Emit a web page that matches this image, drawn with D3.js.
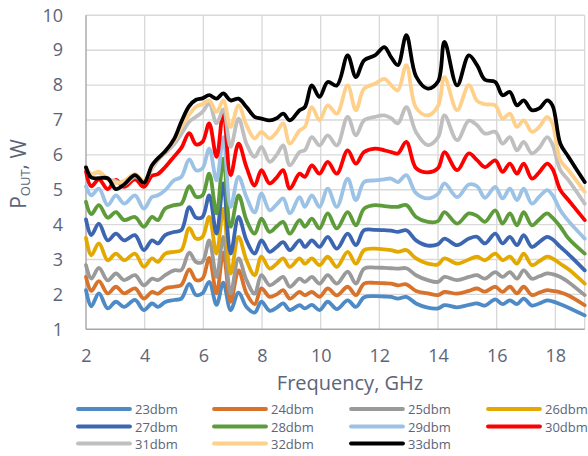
<!DOCTYPE html>
<html>
<head>
<meta charset="utf-8">
<script src="https://cdn.jsdelivr.net/npm/d3@7"></script>
<style>
  html, body { margin: 0; padding: 0; background: #fff; }
  svg { display: block; font-family: "Open Sans", "Noto Sans", sans-serif; }
</style>
</head>
<body>
<svg id="chart" width="588" height="456"></svg>
<script>
// Measurement frequencies, GHz
const freqGHz = [2.0, 2.18, 2.44, 2.74, 3.02, 3.3, 3.67, 3.97, 4.25, 4.45, 4.7, 5.0, 5.25, 5.52, 5.75, 5.97,
  6.2, 6.45, 6.68, 6.93, 7.2, 7.47, 7.75, 7.98, 8.26, 8.5, 8.72, 8.95, 9.28, 9.46, 9.7, 9.96, 10.24, 10.55,
  10.92, 11.2, 11.48, 11.85, 12.17, 12.4, 12.63, 12.92, 13.25, 13.65, 14.0, 14.22, 14.65, 15.05, 15.33, 15.6,
  15.95, 16.2, 16.45, 16.69, 16.92, 17.2, 17.45, 17.72, 17.9, 18.17, 18.45, 19.0];

// Output power (W) for each input drive level
const pout23 = [2.12, 1.66, 2.03, 1.6, 1.79, 1.64, 1.84, 1.55, 1.74, 1.64, 1.78, 1.84, 1.88, 2.3, 1.98, 2.03,
  2.36, 1.7, 2.34, 1.55, 2.05, 1.64, 1.48, 1.79, 1.53, 1.62, 1.74, 1.55, 1.69, 1.6, 1.7, 1.55, 1.79, 1.58,
  1.83, 1.64, 1.92, 1.95, 1.94, 1.93, 1.88, 1.93, 1.74, 1.62, 1.6, 1.69, 1.63, 1.7, 1.74, 1.68,
  1.86, 1.72, 1.83, 1.72, 1.88, 1.68, 1.74, 1.83, 1.8, 1.72, 1.62, 1.4];
const pout24 = [2.5, 2.1, 2.38, 2.03, 2.22, 2.03, 2.17, 1.88, 2.07, 2.02, 2.17, 2.22, 2.27, 2.72, 2.41, 2.45,
  3.05, 2.03, 3.2, 1.79, 2.69, 2.03, 1.72, 2.17, 1.93, 2.0, 2.12, 1.88, 2.07, 1.98, 2.07, 1.93, 2.17, 1.97,
  2.22, 1.98, 2.31, 2.33, 2.32, 2.31, 2.26, 2.29, 2.1, 2.03, 1.98, 2.07, 2.02, 2.1, 2.17, 2.08,
  2.22, 2.07, 2.22, 2.03, 2.22, 1.98, 2.05, 2.12, 2.1, 2.06, 1.97, 1.69];
const pout25 = [2.84, 2.45, 2.76, 2.4, 2.6, 2.41, 2.55, 2.26, 2.45, 2.41, 2.55, 2.69, 2.7, 3.2, 2.93, 2.93,
  3.55, 2.5, 3.65, 2.03, 3.03, 2.41, 2.02, 2.55, 2.26, 2.38, 2.5, 2.22, 2.45, 2.36, 2.5, 2.31, 2.55, 2.31,
  2.65, 2.31, 2.74, 2.77, 2.76, 2.75, 2.74, 2.75, 2.55, 2.41, 2.36, 2.5, 2.41, 2.5, 2.55, 2.45,
  2.64, 2.5, 2.64, 2.45, 2.69, 2.45, 2.52, 2.6, 2.58, 2.5, 2.35, 1.98];
const pout26 = [3.62, 3.12, 3.46, 2.98, 3.17, 2.98, 3.17, 2.79, 3.03, 2.93, 3.17, 3.22, 3.27, 3.9, 3.6, 3.65,
  4.22, 3.17, 4.46, 2.6, 3.65, 2.98, 2.55, 3.08, 2.74, 2.88, 3.03, 2.79, 3.03, 2.88, 3.03, 2.84, 3.08, 2.79,
  3.22, 2.88, 3.27, 3.31, 3.29, 3.27, 3.22, 3.27, 3.03, 2.88, 2.86, 3.03, 2.88, 3.0, 3.08, 2.98,
  3.17, 2.98, 3.08, 2.88, 3.17, 2.84, 2.95, 3.08, 3.03, 2.88, 2.72, 2.31];
const pout27 = [4.15, 3.7, 4.03, 3.55, 3.74, 3.55, 3.7, 3.27, 3.55, 3.46, 3.7, 3.79, 3.84, 4.5, 4.2, 4.22,
  4.84, 3.74, 5.18, 3.17, 4.22, 3.55, 3.17, 3.55, 3.22, 3.36, 3.5, 3.27, 3.55, 3.36, 3.55, 3.36, 3.65, 3.31,
  3.74, 3.41, 3.84, 3.85, 3.84, 3.83, 3.79, 3.84, 3.55, 3.4, 3.44, 3.6, 3.41, 3.6, 3.65, 3.46,
  3.74, 3.46, 3.65, 3.41, 3.7, 3.36, 3.5, 3.65, 3.58, 3.36, 3.15, 2.69];
const pout28 = [4.65, 4.3, 4.56, 4.2, 4.36, 4.13, 4.22, 3.94, 4.22, 4.13, 4.46, 4.56, 4.6, 5.1, 4.8, 4.84,
  5.46, 4.32, 5.89, 3.94, 4.84, 4.13, 3.74, 4.17, 3.79, 3.95, 4.08, 3.74, 4.13, 3.94, 4.17, 3.89, 4.32, 3.89,
  4.36, 3.98, 4.46, 4.56, 4.53, 4.51, 4.51, 4.56, 4.22, 4.08, 4.1, 4.36, 4.03, 4.32, 4.25, 4.08,
  4.41, 4.03, 4.32, 3.98, 4.36, 3.98, 4.15, 4.32, 4.2, 3.94, 3.6, 3.17];
const pout29 = [5.1, 4.84, 5.03, 4.56, 4.84, 4.6, 4.84, 4.46, 4.79, 4.84, 4.99, 5.27, 5.37, 5.87, 5.56, 5.61,
  6.18, 5.27, 6.51, 4.51, 5.37, 4.79, 4.35, 4.89, 4.41, 4.58, 4.75, 4.32, 4.79, 4.51, 4.84, 4.51, 5.03, 4.51,
  5.32, 4.7, 5.22, 5.27, 5.3, 5.32, 5.22, 5.42, 4.9, 4.75, 4.88, 5.18, 4.79, 5.15, 5.1, 4.77,
  5.08, 4.75, 5.03, 4.7, 5.03, 4.6, 4.8, 4.99, 4.85, 4.41, 4.1, 3.6];
const pout30 = [5.52, 5.1, 5.3, 5.02, 5.28, 5.08, 5.3, 5.08, 5.4, 5.45, 5.65, 5.95, 6.2, 6.62, 6.3, 6.37,
  6.9, 5.94, 7.25, 5.42, 6.32, 5.65, 5.12, 5.56, 5.18, 5.35, 5.56, 5.03, 5.46, 5.37, 5.7, 5.46, 5.8, 5.46,
  6.13, 5.75, 6.08, 6.18, 6.13, 6.08, 6.04, 6.37, 5.62, 5.5, 5.62, 6.08, 5.56, 6.04, 5.85, 5.65,
  5.84, 5.51, 5.75, 5.46, 5.75, 5.32, 5.5, 5.75, 5.6, 4.99, 4.7, 4.13];
const pout31 = [5.6, 5.45, 5.5, 5.3, 5.25, 5.15, 5.38, 5.25, 5.6, 5.85, 6.05, 6.3, 6.6, 6.95, 7.09, 7.23,
  7.47, 6.9, 7.3, 6.23, 7.04, 6.32, 5.94, 6.23, 5.8, 6.0, 6.27, 5.7, 6.08, 6.13, 6.51, 6.27, 6.56, 6.27,
  7.09, 6.56, 6.99, 7.09, 7.13, 7.05, 6.9, 7.37, 6.65, 6.28, 6.5, 7.13, 6.42, 6.98, 6.85, 6.61,
  6.66, 6.32, 6.51, 6.13, 6.37, 6.04, 6.2, 6.51, 6.3, 5.56, 5.27, 4.6];
const pout32 = [5.65, 5.45, 5.52, 5.3, 5.2, 5.25, 5.45, 5.25, 5.65, 5.9, 6.1, 6.4, 6.8, 7.15, 7.38, 7.45,
  7.56, 7.23, 7.56, 6.8, 7.42, 6.85, 6.47, 6.66, 6.47, 6.65, 6.9, 6.32, 6.7, 6.8, 7.37, 6.99, 7.42, 7.18,
  7.99, 7.28, 7.9, 8.04, 8.18, 8.0, 7.85, 8.57, 7.35, 7.13, 7.4, 8.23, 7.28, 8.0, 7.55, 7.45,
  7.42, 7.04, 7.18, 6.8, 6.99, 6.66, 6.8, 7.09, 6.9, 5.84, 5.56, 4.94];
const pout33 = [5.64, 5.35, 5.33, 5.33, 5.02, 5.15, 5.42, 5.2, 5.7, 5.9, 6.1, 6.45, 6.95, 7.4, 7.58, 7.62,
  7.71, 7.61, 7.76, 7.56, 7.61, 7.37, 7.09, 7.04, 6.99, 7.05, 7.18, 6.99, 7.28, 7.37, 7.99, 7.66, 8.09, 7.99,
  8.85, 8.23, 8.71, 8.85, 9.09, 8.8, 8.57, 9.43, 8.25, 7.9, 8.1, 9.24, 7.99, 8.85, 8.57, 8.15,
  8.09, 7.71, 7.8, 7.42, 7.56, 7.28, 7.33, 7.56, 7.42, 6.32, 5.94, 5.22];

const seriesNames = ["23dbm", "24dbm", "25dbm", "26dbm", "27dbm", "28dbm", "29dbm", "30dbm", "31dbm", "32dbm", "33dbm"];
const seriesValues = [pout23, pout24, pout25, pout26, pout27, pout28, pout29, pout30, pout31, pout32, pout33];
const seriesColors = ["#4e8ac6", "#d8732c", "#9a9a9a", "#e4a900", "#3c66b1", "#5e9c3b",
  "#9cc2e5", "#ff0000", "#bfbfbf", "#ffd08a", "#000000"];

const xTicks = [2, 4, 6, 8, 10, 12, 14, 16, 18];
const yTicks = [1, 2, 3, 4, 5, 6, 7, 8, 9, 10];

const svg = d3.select("#chart");
const textColor = "#5c6578";

const x = d3.scaleLinear().domain([2, 19]).range([86, 584.7]);
const y = d3.scaleLinear().domain([1, 10]).range([329.3, 15.3]);

// gridlines
const grid = svg.append("g").attr("stroke", "#d9d9d9").attr("stroke-width", 1.4);
grid.selectAll("line.h").data(yTicks.slice(1)).join("line")
  .attr("x1", x(2)).attr("x2", x(19))
  .attr("y1", d => y(d)).attr("y2", d => y(d));
grid.selectAll("line.v").data(xTicks.slice(1).concat([19])).join("line")
  .attr("x1", d => x(d)).attr("x2", d => x(d))
  .attr("y1", y(1)).attr("y2", y(10));

// axis lines
svg.append("line").attr("x1", x(2)).attr("x2", x(2)).attr("y1", y(10)).attr("y2", y(1))
  .attr("stroke", "#a6a6a6").attr("stroke-width", 1.4);
svg.append("line").attr("x1", x(2)).attr("x2", x(19)).attr("y1", y(1)).attr("y2", y(1))
  .attr("stroke", "#a6a6a6").attr("stroke-width", 1.4);

// tick labels
const yAxis = d3.axisLeft(y).tickValues(yTicks).tickSize(0).tickPadding(23);
const gy = svg.append("g").attr("transform", `translate(${x(2)},0)`).call(yAxis);
const xAxis = d3.axisBottom(x).tickValues(xTicks).tickSize(0).tickPadding(20);
const gx = svg.append("g").attr("transform", `translate(0,${y(1)})`).call(xAxis);
[gx, gy].forEach(g => {
  g.select(".domain").remove();
  g.selectAll("text").attr("fill", textColor).attr("font-size", 18)
    .attr("font-family", '"Open Sans", sans-serif');
});

// series lines
const line = d3.line()
  .x((d, i) => x(freqGHz[i]))
  .y(d => y(d))
  .curve(d3.curveCatmullRom.alpha(0.5));

svg.append("g").selectAll("path").data(seriesValues).join("path")
  .attr("d", d => line(d))
  .attr("fill", "none")
  .attr("stroke", (d, i) => seriesColors[i])
  .attr("stroke-width", 3.8)
  .attr("stroke-linejoin", "round")
  .attr("stroke-linecap", "round");

// axis titles
const yTitle = svg.append("text")
  .attr("transform", "translate(26,174) rotate(-90)")
  .attr("text-anchor", "middle")
  .attr("fill", textColor)
  .attr("font-size", 21);
yTitle.append("tspan").text("P");
yTitle.append("tspan").attr("font-size", 13).attr("dy", 4).text("OUT");
yTitle.append("tspan").attr("dy", -4).text(", W");

svg.append("text")
  .attr("x", 350).attr("y", 390)
  .attr("text-anchor", "middle")
  .attr("fill", textColor)
  .attr("font-size", 20)
  .text("Frequency, GHz");

// legend
const legendCols = [77, 213, 350, 487];
const legendRows = [409, 426.5, 443.5];
const legend = svg.append("g").selectAll("g").data(seriesNames).join("g")
  .attr("transform", (d, i) => `translate(${legendCols[i % 4]},${legendRows[Math.floor(i / 4)]})`);
legend.append("line")
  .attr("x1", 1).attr("x2", 53).attr("y1", 0).attr("y2", 0)
  .attr("stroke", (d, i) => seriesColors[i])
  .attr("stroke-width", 3.8)
  .attr("stroke-linecap", "round");
legend.append("text")
  .attr("x", 58).attr("y", 0)
  .attr("dominant-baseline", "central")
  .attr("fill", textColor)
  .attr("font-size", 13)
  .text(d => d);
</script>
</body>
</html>
